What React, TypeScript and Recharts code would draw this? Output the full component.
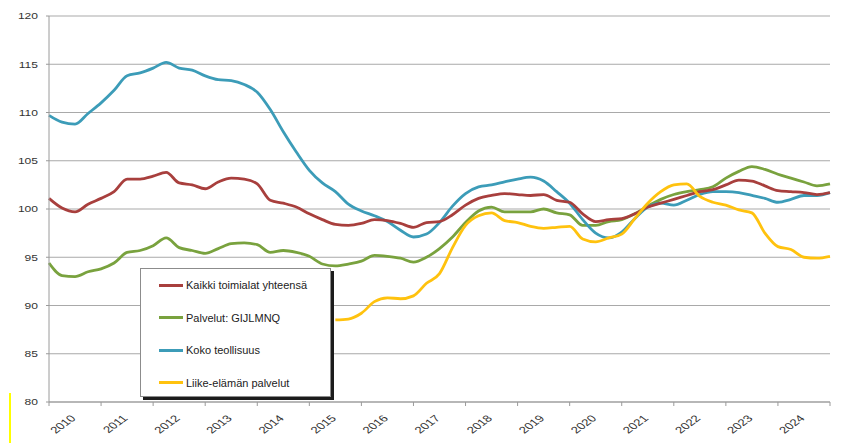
import React from "react";
import { LineChart, Line, XAxis, YAxis, CartesianGrid, Legend } from "recharts";

// Quarterly sample positions, in years after the start of 2010
const quarterIndex: number[] = Array.from({ length: 61 }, (_, i) => i);
const yearLabels: string[] = ["2010", "2011", "2012", "2013", "2014", "2015", "2016", "2017", "2018", "2019", "2020", "2021", "2022", "2023", "2024"];
const yTicks: number[] = [80, 85, 90, 95, 100, 105, 110, 115, 120];

const kaikki: number[] = [
  101.1, 100.1, 99.7, 100.5, 101.1, 101.8, 103.1, 103.1, 103.4, 103.8,
  102.7, 102.5, 102.1, 102.8, 103.2, 103.1, 102.6, 100.9, 100.6, 100.2,
  99.5, 98.9, 98.4, 98.3, 98.5, 98.9, 98.8, 98.5, 98.1, 98.6,
  98.7, 99.4, 100.4, 101.1, 101.4, 101.6, 101.5, 101.4, 101.5, 100.9,
  100.7, 99.5, 98.7, 98.9, 99.0, 99.5, 100.2, 100.6, 101.0, 101.4,
  101.8, 102.0, 102.5, 103.0, 102.9, 102.4, 101.9, 101.8, 101.7, 101.5,
  101.7,
];

const palvelut: number[] = [
  94.4, 93.1, 93.0, 93.5, 93.8, 94.4, 95.5, 95.7, 96.2, 97.0,
  96.0, 95.7, 95.4, 95.9, 96.4, 96.5, 96.3, 95.5, 95.7, 95.5,
  95.1, 94.3, 94.1, 94.3, 94.6, 95.2, 95.1, 94.9, 94.5, 95.0,
  95.9, 97.1, 98.6, 99.8, 100.2, 99.7, 99.7, 99.7, 100.0, 99.6,
  99.4, 98.3, 98.3, 98.7, 98.9, 99.5, 100.3, 101.0, 101.5, 101.8,
  102.0, 102.3, 103.2, 103.9, 104.4, 104.1, 103.6, 103.2, 102.8, 102.4,
  102.6,
];

const koko: number[] = [
  109.7, 109.0, 108.8, 109.9, 111.0, 112.3, 113.8, 114.1, 114.6, 115.2,
  114.6, 114.4, 113.8, 113.4, 113.3, 112.9, 112.1, 110.3, 108.0, 105.9,
  104.0, 102.7, 101.8, 100.5, 99.8, 99.3, 98.7, 97.8, 97.1, 97.4,
  98.6, 100.3, 101.6, 102.3, 102.5, 102.8, 103.1, 103.3, 102.9, 101.8,
  100.6, 98.9, 97.5, 97.0, 97.6, 99.0, 100.2, 100.6, 100.4, 100.9,
  101.5, 101.8, 101.8, 101.7, 101.4, 101.1, 100.7, 101.0, 101.4, 101.4,
  101.7,
];

const liike: (number | null)[] = [
  null, null, null, null, null, null, null, null, null, null,
  null, null, null, null, null, null, null, null, null, null,
  null, null, 88.5, 88.6, 89.2, 90.4, 90.8, 90.7, 91.0, 92.3,
  93.3, 96.0, 98.3, 99.3, 99.6, 98.8, 98.6, 98.2, 98.0, 98.1,
  98.2, 96.9, 96.6, 97.0, 97.4, 99.0, 100.6, 101.8, 102.5, 102.6,
  101.3, 100.7, 100.4, 99.9, 99.6, 97.5, 96.1, 95.8, 95.0, 94.9,
  95.1,
];

const seriesNames = {
  kaikki: "Kaikki toimialat yhteensä",
  palvelut: "Palvelut: GIJLMNQ",
  koko: "Koko teollisuus",
  liike: "Liike-elämän palvelut",
};

const data = quarterIndex.map((i) => ({
  t: i / 4,
  kaikki: kaikki[i],
  palvelut: palvelut[i],
  koko: koko[i],
  liike: liike[i],
}));

const W = 841;
const H = 443;
const M = { top: 16, right: 11, left: 0, bottom: 0 };
const Y_AXIS_W = 49;
const X_AXIS_H = 41;
const PLOT_W = W - M.left - M.right - Y_AXIS_W;
const BAND = PLOT_W / yearLabels.length;
const FONT = "'Liberation Sans', Arial, sans-serif";
const LINE_W = 2.8;

const YTick = (props: any) => {
  const { x, y, payload } = props;
  return (
    <text
      x={0}
      y={0}
      textAnchor="end"
      dominantBaseline="central"
      fontSize={9.5}
      fontFamily={FONT}
      fill="#333"
      transform={`translate(${x},${y}) scale(1.27,1)`}
    >
      {payload.value}
    </text>
  );
};

const XTick = (props: any) => {
  const { x, y, payload } = props;
  const idx = Math.round(payload.value);
  if (idx >= yearLabels.length) return null;
  const ax = x + BAND / 2 + 1.5;
  return (
    <text
      x={0}
      y={0}
      textAnchor="end"
      fontSize={9.5}
      fontFamily={FONT}
      fill="#333"
      transform={`translate(${ax},${y}) scale(1.4,1) rotate(-45)`}
    >
      {yearLabels[idx]}
    </text>
  );
};

const LegendBox = (props: any) => {
  const { payload } = props;
  return (
    <div
      style={{
        position: "relative",
        width: 191,
        height: 129,
        background: "#fff",
        border: "1px solid #8c8c8c",
        boxShadow: "3px 3px 0 #1c1c1c",
        boxSizing: "border-box",
      }}
    >
      {(payload || []).map((p: any, i: number) => (
        <div
          key={p.value}
          style={{
            position: "absolute",
            left: 18,
            top: 16 + i * 32.6 - 8,
            height: 16,
            display: "flex",
            alignItems: "center",
            whiteSpace: "nowrap",
          }}
        >
          <span
            style={{
              display: "inline-block",
              width: 24,
              height: 3,
              background: p.color,
              marginRight: 3,
            }}
          />
          <span style={{ fontFamily: FONT, fontSize: 11, color: "#222" }}>{p.value}</span>
        </div>
      ))}
    </div>
  );
};

export default function App() {
  return (
    <div style={{ position: "absolute", left: 0, top: 0, width: W, height: H, background: "#fff" }}>
      <LineChart width={W} height={H} data={data} margin={M}>
        <CartesianGrid vertical={false} stroke="#a9a9a9" strokeWidth={1} />
        <XAxis
          dataKey="t"
          type="number"
          domain={[0, 15]}
          ticks={[0, 1, 2, 3, 4, 5, 6, 7, 8, 9, 10, 11, 12, 13, 14, 15]}
          interval={0}
          height={X_AXIS_H}
          axisLine={{ stroke: "#9a9a9a" }}
          tickLine={{ stroke: "#9a9a9a" }}
          tickSize={4}
          tickMargin={13}
          tick={<XTick />}
        />
        <YAxis
          domain={[80, 120]}
          ticks={yTicks}
          interval={0}
          width={Y_AXIS_W}
          axisLine={{ stroke: "#9a9a9a" }}
          tickLine={{ stroke: "#9a9a9a" }}
          tickSize={3}
          tickMargin={8}
          tick={<YTick />}
        />
        <Line type="monotone" dataKey="palvelut" name={seriesNames.palvelut} stroke="#79a23e" strokeWidth={LINE_W} dot={false} activeDot={false} isAnimationActive={false} />
        <Line type="monotone" dataKey="koko" name={seriesNames.koko} stroke="#3c9cb8" strokeWidth={LINE_W} dot={false} activeDot={false} isAnimationActive={false} />
        <Line type="monotone" dataKey="kaikki" name={seriesNames.kaikki} stroke="#a83f3d" strokeWidth={LINE_W} dot={false} activeDot={false} isAnimationActive={false} />
        <Line type="monotone" dataKey="liike" name={seriesNames.liike} stroke="#ffc20e" strokeWidth={LINE_W} dot={false} activeDot={false} isAnimationActive={false} />
        <Legend
          layout="horizontal"
          verticalAlign="middle"
          align="center"
          content={(p: any) => {
            const order = [seriesNames.kaikki, seriesNames.palvelut, seriesNames.koko, seriesNames.liike];
            const sorted = [...(p.payload || [])].sort((a: any, b: any) => order.indexOf(a.value) - order.indexOf(b.value));
            return <LegendBox payload={sorted} />;
          }}
          wrapperStyle={{ position: "absolute", left: 140, top: 268, width: 191, height: 129 }}
        />
      </LineChart>
      <div style={{ position: "absolute", left: 9, top: 393, width: 2, height: 50, background: "#ffff00" }} />
    </div>
  );
}
